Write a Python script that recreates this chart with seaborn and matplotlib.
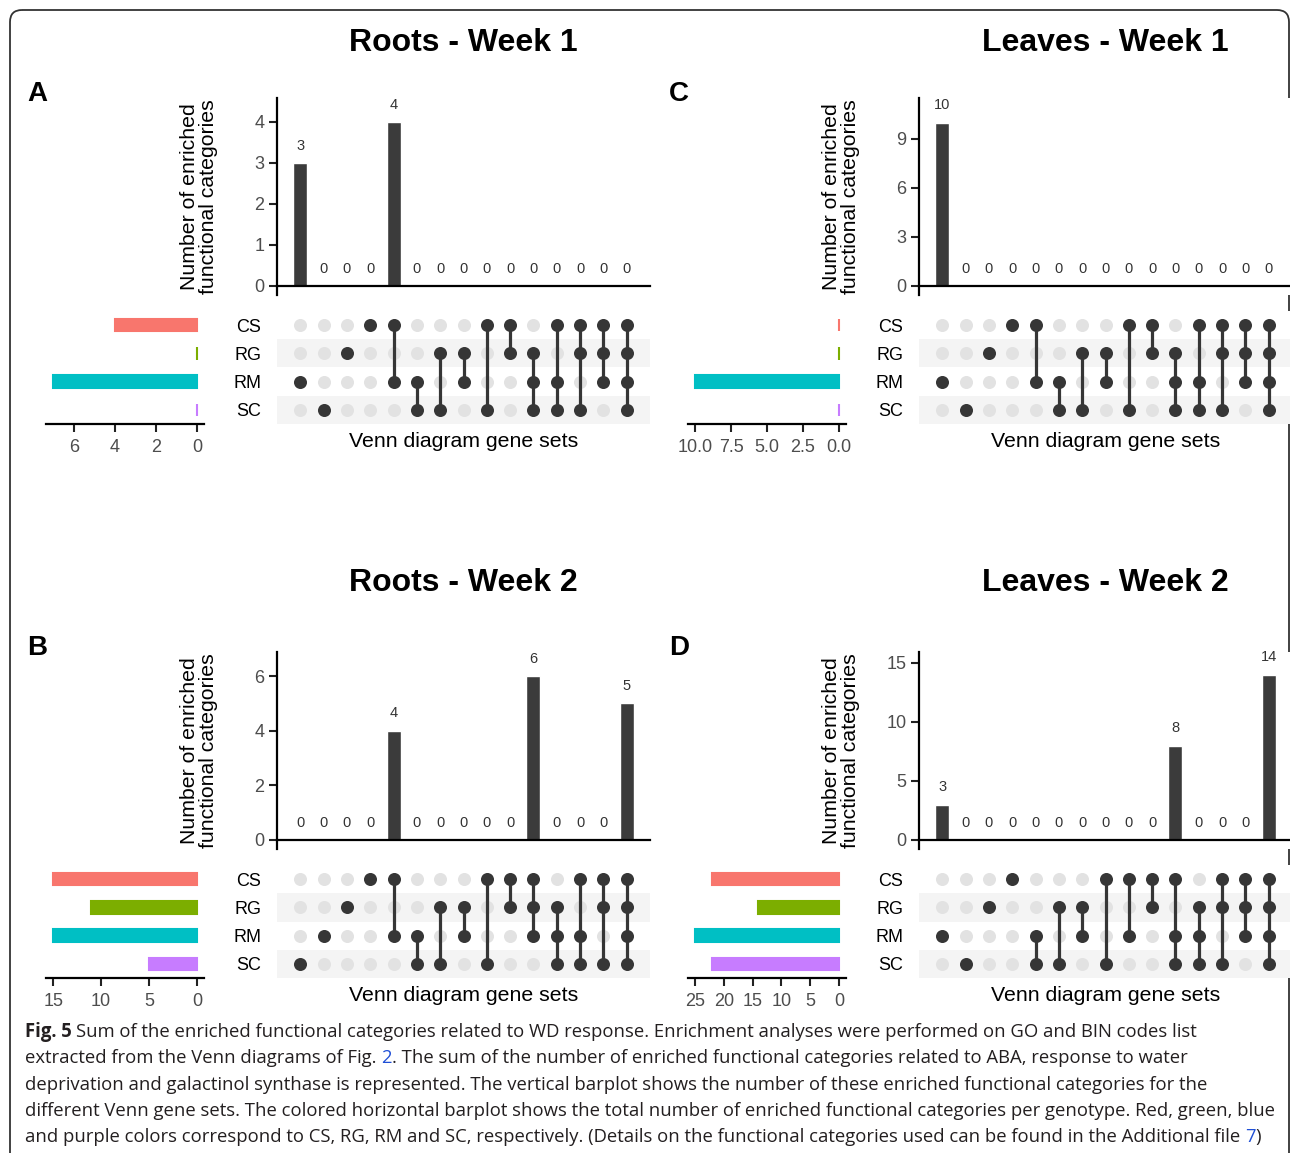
import matplotlib
matplotlib.use("Agg")
import matplotlib.pyplot as plt
from matplotlib import font_manager
from matplotlib.patches import FancyBboxPatch
import pandas as pd
import seaborn as sns

# ---------------------------------------------------------------- data
set_names = ["CS", "RG", "RM", "SC"]
set_palette = ["#F8766D", "#7CAE00", "#00BFC4", "#C77CFF"]

roots_w1_combos = ["RM", "SC", "RG", "CS", "CS&RM", "RM&SC", "RG&SC", "RG&RM",
                   "CS&SC", "CS&RG", "RG&RM&SC", "CS&RM&SC", "CS&RG&SC",
                   "CS&RG&RM", "CS&RG&RM&SC"]
roots_w1_counts = [3, 0, 0, 0, 4, 0, 0, 0, 0, 0, 0, 0, 0, 0, 0]
roots_w1_set_sizes = [4, 0, 7, 0]

leaves_w1_combos = ["RM", "SC", "RG", "CS", "CS&RM", "RM&SC", "RG&SC", "RG&RM",
                    "CS&SC", "CS&RG", "RG&RM&SC", "CS&RM&SC", "CS&RG&SC",
                    "CS&RG&RM", "CS&RG&RM&SC"]
leaves_w1_counts = [10, 0, 0, 0, 0, 0, 0, 0, 0, 0, 0, 0, 0, 0, 0]
leaves_w1_set_sizes = [0, 0, 10, 0]

roots_w2_combos = ["SC", "RM", "RG", "CS", "CS&RM", "RM&SC", "RG&SC", "RG&RM",
                   "CS&SC", "CS&RG", "CS&RG&RM", "RG&RM&SC", "CS&RM&SC",
                   "CS&RG&SC", "CS&RG&RM&SC"]
roots_w2_counts = [0, 0, 0, 0, 4, 0, 0, 0, 0, 0, 6, 0, 0, 0, 5]
roots_w2_set_sizes = [15, 11, 15, 5]

leaves_w2_combos = ["RM", "SC", "RG", "CS", "RM&SC", "RG&SC", "RG&RM", "CS&SC",
                    "CS&RM", "CS&RG", "CS&RM&SC", "RG&RM&SC", "CS&RG&SC",
                    "CS&RG&RM", "CS&RG&RM&SC"]
leaves_w2_counts = [3, 0, 0, 0, 0, 0, 0, 0, 0, 0, 8, 0, 0, 0, 14]
leaves_w2_set_sizes = [22, 14, 25, 22]

panel_titles = ["Roots - Week 1", "Leaves - Week 1", "Roots - Week 2", "Leaves - Week 2"]
panel_letters = ["A", "C", "B", "D"]

bar_ylabel = "Number of enriched\nfunctional categories"
matrix_xlabel = "Venn diagram gene sets"

caption_lines = [
    [("Fig. 5 ", "bold", "k"),
     ("Sum of the enriched functional categories related to WD response. Enrichment "
      "analyses were performed on GO and BIN codes list", "normal", "k")],
    [("extracted from the Venn diagrams of Fig. ", "normal", "k"), ("2", "normal", "b"),
     (". The sum of the number of enriched functional categories related to ABA, "
      "response to water", "normal", "k")],
    [("deprivation and galactinol synthase is represented. The vertical barplot shows "
      "the number of these enriched functional categories for the", "normal", "k")],
    [("different Venn gene sets. The colored horizontal barplot shows the total number "
      "of enriched functional categories per genotype. Red, green, blue", "normal", "k")],
    [("and purple colors correspond to CS, RG, RM and SC, respectively. (Details on the "
      "functional categories used can be found in the Additional file ", "normal", "k"),
     ("7", "normal", "b"), (")", "normal", "k")],
]

# ---------------------------------------------------------------- style
W, H = 1290, 1153
sns.set_theme(style="white")
plt.rcParams["font.family"] = ["Liberation Sans", "DejaVu Sans"]

BAR_COLOR = "#3b3b3b"
DOT_ON = "#363636"
DOT_OFF = "#e2e2e2"
STRIPE = "#f4f4f4"
TICK_TXT = "#4d4d4d"

fig = plt.figure(figsize=(W / 100, H / 100), dpi=100)

# background layer in pixel coordinates: frame and caption
bg = fig.add_axes([0, 0, 1, 1])
bg.set_xlim(0, W)
bg.set_ylim(H, 0)
bg.axis("off")
bg.add_patch(FancyBboxPatch((10, 10), 1279, 1170,
                            boxstyle="round,pad=0,rounding_size=12",
                            fill=False, lw=1.3, ec="#333333", clip_on=False))


def box(x0, y0, x1, y1):
    return [x0 / W, 1 - y1 / H, (x1 - x0) / W, (y1 - y0) / H]


def upset_panel(ox, oy, title_y, title, letter, combos, counts, set_sizes,
                bar_top, bar_ticks, size_ticks, size_fmt):
    n = len(combos)

    # ---- intersection sizes
    ax_bar = fig.add_axes(box(277 + ox, 98 + oy, 650 + ox, 295 + oy))
    bdf = pd.DataFrame({"combo": combos, "count": counts})
    sns.barplot(data=bdf, x="combo", y="count", order=combos, color=BAR_COLOR,
                saturation=1, width=0.6, ax=ax_bar)
    ax_bar.bar_label(ax_bar.containers[0], labels=[str(c) for c in counts],
                     padding=7.5, fontsize=10.5, color="#333333")
    ax_bar.set_xlim(-1, n)
    ax_bar.set_ylim(-9 * bar_top / 188, bar_top)
    ax_bar.set_xticks([])
    ax_bar.set_yticks(bar_ticks)
    ax_bar.set_yticklabels([str(t) for t in bar_ticks])
    ax_bar.tick_params(axis="y", left=True, length=6, width=1.5, color="#222222",
                       labelsize=13, labelcolor=TICK_TXT, pad=3)
    for side in ("top", "right"):
        ax_bar.spines[side].set_visible(False)
    for side in ("left", "bottom"):
        ax_bar.spines[side].set_color("black")
        ax_bar.spines[side].set_linewidth(1.6)
    ax_bar.spines["bottom"].set_position(("data", 0))
    ax_bar.set_xlabel("")
    ax_bar.set_ylabel(bar_ylabel, fontsize=15.3, color="black", linespacing=1.0)
    ax_bar.yaxis.set_label_coords(-0.158, 0.5)

    # ---- membership matrix
    ax_mat = fig.add_axes(box(277 + ox, 311 + oy, 650 + ox, 424 + oy))
    for r in (1, 3):
        ax_mat.axhspan(r - 0.5, r + 0.5, color=STRIPE, lw=0, zorder=0)
    rows = []
    for i, c in enumerate(combos):
        members = c.split("&")
        for j, s in enumerate(set_names):
            rows.append({"pos": i, "row": j, "on": s in members})
    mdf = pd.DataFrame(rows)
    sns.scatterplot(data=mdf[~mdf["on"]], x="pos", y="row", color=DOT_OFF, s=88,
                    linewidth=0, legend=False, ax=ax_mat, zorder=2)
    sns.scatterplot(data=mdf[mdf["on"]], x="pos", y="row", color=DOT_ON, s=88,
                    linewidth=0, legend=False, ax=ax_mat, zorder=4)
    for i, c in enumerate(combos):
        idx = [set_names.index(s) for s in c.split("&")]
        if len(idx) > 1:
            ax_mat.plot([i, i], [min(idx), max(idx)], color=DOT_ON, lw=2.3,
                        solid_capstyle="butt", zorder=3)
    ax_mat.set_xlim(-1, n)
    ax_mat.set_ylim(3.5, -0.5)
    ax_mat.set_xticks([])
    ax_mat.set_yticks(range(len(set_names)))
    ax_mat.set_yticklabels(set_names)
    ax_mat.tick_params(axis="y", left=False, length=0, labelsize=13,
                       labelcolor="black", pad=11.5)
    for side in ax_mat.spines.values():
        side.set_visible(False)
    ax_mat.set_ylabel("")
    ax_mat.set_xlabel(matrix_xlabel, fontsize=15.3, color="black", labelpad=6)

    # ---- set sizes
    ax_set = fig.add_axes(box(46 + ox, 311 + oy, 204 + ox, 424 + oy))
    sdf = pd.DataFrame({"set": set_names, "size": set_sizes})
    sns.barplot(data=sdf, y="set", x="size", hue="set", order=set_names,
                hue_order=set_names, palette=set_palette, orient="h",
                saturation=1, width=0.44, legend=False, ax=ax_set)
    for patch, col in zip(ax_set.patches, set_palette):
        patch.set_edgecolor(col)
        patch.set_linewidth(1.5)
    smax = max(set_sizes)
    ax_set.set_xlim(smax * 1.05, -smax * 0.05)
    ax_set.set_ylim(3.5, -0.5)
    ax_set.set_yticks([])
    ax_set.set_xticks(size_ticks)
    ax_set.set_xticklabels([size_fmt.format(t) for t in size_ticks])
    ax_set.tick_params(axis="x", bottom=True, length=6, width=1.5, color="#222222",
                       labelsize=13, labelcolor=TICK_TXT, pad=5)
    for side in ("top", "right", "left"):
        ax_set.spines[side].set_visible(False)
    ax_set.spines["bottom"].set_color("black")
    ax_set.spines["bottom"].set_linewidth(1.6)
    ax_set.set_xlabel("")
    ax_set.set_ylabel("")

    # ---- headings
    fig.text((463 + ox) / W, 1 - title_y / H, title, ha="center", va="center",
             fontsize=23, fontweight="bold", color="black")
    fig.text((37 + ox) / W, 1 - (94 + oy) / H, letter, ha="center", va="center",
             fontsize=20, fontweight="bold", color="black")


upset_panel(0, 0, 43, panel_titles[0], panel_letters[0], roots_w1_combos,
            roots_w1_counts, roots_w1_set_sizes, 4.585, [0, 1, 2, 3, 4],
            [0, 2, 4, 6], "{:g}")
upset_panel(642, 0, 43, panel_titles[1], panel_letters[1], leaves_w1_combos,
            leaves_w1_counts, leaves_w1_set_sizes, 11.51, [0, 3, 6, 9],
            [0, 2.5, 5, 7.5, 10], "{:.1f}")
upset_panel(0, 554, 583, panel_titles[2], panel_letters[2], roots_w2_combos,
            roots_w2_counts, roots_w2_set_sizes, 6.88, [0, 2, 4, 6],
            [0, 5, 10, 15], "{:g}")
upset_panel(642, 554, 583, panel_titles[3], panel_letters[3], leaves_w2_combos,
            leaves_w2_counts, leaves_w2_set_sizes, 15.93, [0, 5, 10, 15],
            [0, 5, 10, 15, 20, 25], "{:g}")

# ---------------------------------------------------------------- caption
available = {f.name for f in font_manager.fontManager.ttflist}
cap_family = next((f for f in ["Liberation Sans Narrow", "Open Sans", "Noto Sans"]
                   if f in available), "DejaVu Sans")
renderer = fig.canvas.get_renderer()
colors = {"k": "#231f20", "b": "#1f4fd6"}


def advance(s, size, weight):
    kw = dict(fontsize=size, fontweight=weight, family=cap_family)
    t1 = bg.text(0, 0, "|" + s + "|", **kw)
    t2 = bg.text(0, 0, "||", **kw)
    w = t1.get_window_extent(renderer).width - t2.get_window_extent(renderer).width
    t1.remove()
    t2.remove()
    return w


ref_width = sum(advance(s, 10, wt) for s, wt, _ in caption_lines[3])
cap_size = 10 * 1250 / ref_width

for k, line in enumerate(caption_lines):
    x = 25
    y = 1037 + 26.3 * k
    for s, wt, col in line:
        bg.text(x, y, s, ha="left", va="baseline", fontsize=cap_size,
                fontweight=wt, color=colors[col], family=cap_family)
        x += advance(s, cap_size, wt)

fig.savefig("out.png", dpi=100)
